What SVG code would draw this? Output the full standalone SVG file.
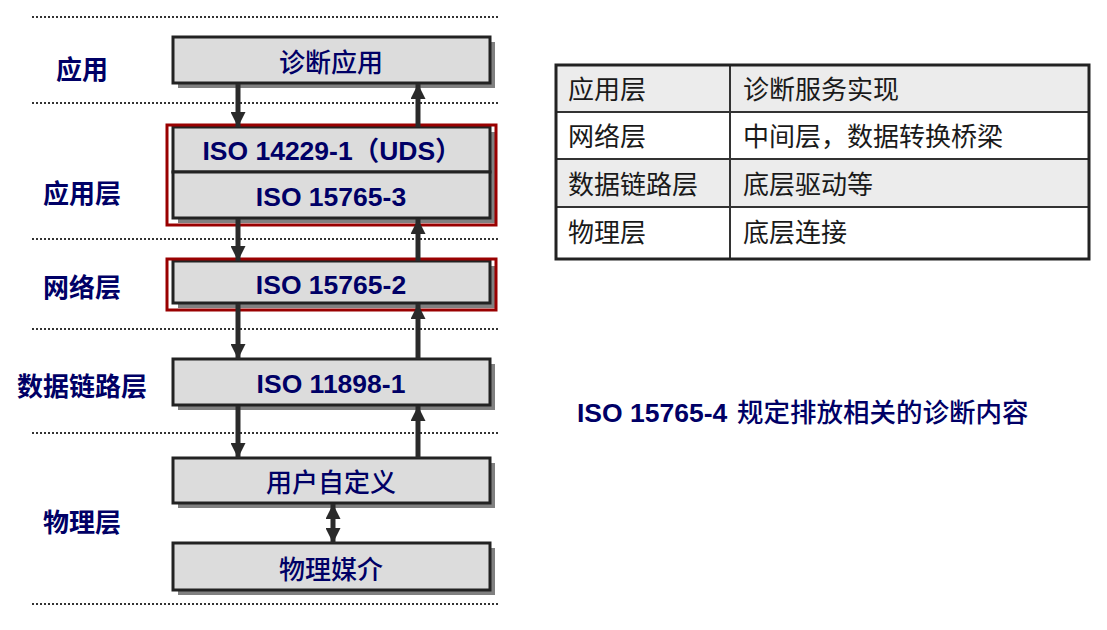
<svg xmlns="http://www.w3.org/2000/svg" width="1107" height="630" viewBox="0 0 1107 630">
<defs>
<style>
.dot{stroke:#333;stroke-width:2;stroke-dasharray:2 2;fill:none}
.shadow{fill:#808080}
.box{fill:#dcdcdc;stroke:#222;stroke-width:3}
.red{fill:none;stroke:#990000;stroke-width:3}
.bt{font-family:"Liberation Sans","Noto Sans CJK SC",sans-serif;font-weight:bold;font-size:26.5px;fill:#000066;text-anchor:middle}
.bc{font-family:"Noto Sans CJK SC",sans-serif;font-weight:500;font-size:26px;fill:#000066;text-anchor:middle}
.lt{font-family:"Noto Sans CJK SC",sans-serif;font-weight:bold;font-size:26px;fill:#000066;text-anchor:middle}
.tt{font-family:"Noto Sans CJK SC",sans-serif;font-size:26px;fill:#1a1a1a}
.ln{stroke:#2a2a2a;stroke-width:5;fill:none}
.cell{stroke:#333;stroke-width:2}
</style>
<marker id="ah" viewBox="0 0 10 10" refX="10" refY="5" markerWidth="3" markerHeight="3" orient="auto" markerUnits="strokeWidth">
<path d="M0,0 L10,5 L0,10 z" fill="#2a2a2a"/>
</marker>
<marker id="ahs" viewBox="0 0 10 10" refX="0" refY="5" markerWidth="3" markerHeight="3" orient="auto" markerUnits="strokeWidth">
<path d="M10,0 L0,5 L10,10 z" fill="#2a2a2a"/>
</marker>
</defs>
<rect width="1107" height="630" fill="#fff"/>
<g id="separators">
<line class="dot" x1="32" y1="17" x2="498" y2="17"/>
<line class="dot" x1="32" y1="103" x2="498" y2="103"/>
<line class="dot" x1="32" y1="239" x2="498" y2="239"/>
<line class="dot" x1="32" y1="329" x2="498" y2="329"/>
<line class="dot" x1="32" y1="433" x2="498" y2="433"/>
<line class="dot" x1="32" y1="604" x2="498" y2="604"/>
</g>
<g id="layer-labels">
<text class="lt" x="82" y="79">应用</text>
<text class="lt" x="82" y="203">应用层</text>
<text class="lt" x="82" y="297">网络层</text>
<text class="lt" x="82" y="396">数据链路层</text>
<text class="lt" x="82" y="532">物理层</text>
</g>
<g id="node-diag-app">
<rect class="shadow" x="178" y="42" width="317" height="46"/>
<rect class="box" x="173" y="37" width="317" height="46"/>
<text class="bc" x="331" y="72">诊断应用</text>
</g>
<g id="node-iso14229">
<rect class="shadow" x="178" y="132" width="317" height="91"/>
<rect class="box" x="173" y="127" width="317" height="45"/>
<text class="bt" x="332" y="160">ISO 14229-1（UDS）</text>
</g>
<g id="node-iso15765-3">
<rect class="box" x="173" y="172" width="317" height="46"/>
<text class="bt" x="331" y="206">ISO 15765-3</text>
</g>
<rect id="frame-app-layer" class="red" x="167" y="125" width="329" height="100"/>
<g id="node-iso15765-2">
<rect class="shadow" x="178" y="266" width="317" height="42"/>
<rect class="box" x="173" y="261" width="317" height="42"/>
<text class="bt" x="331" y="294">ISO 15765-2</text>
<rect class="red" x="167" y="259" width="329" height="51"/>
</g>
<g id="node-iso11898">
<rect class="shadow" x="178" y="364" width="317" height="46"/>
<rect class="box" x="173" y="359" width="317" height="46"/>
<text class="bt" x="331" y="393">ISO 11898-1</text>
</g>
<g id="node-user">
<rect class="shadow" x="178" y="463" width="317" height="45"/>
<rect class="box" x="173" y="458" width="317" height="45"/>
<text class="bc" x="331" y="492">用户自定义</text>
</g>
<g id="node-phys">
<rect class="shadow" x="178" y="548" width="317" height="47"/>
<rect class="box" x="173" y="543" width="317" height="47"/>
<text class="bc" x="331" y="579">物理媒介</text>
</g>
<g id="connectors">
<line class="ln" x1="238" y1="84" x2="238" y2="127" marker-end="url(#ah)"/>
<line class="ln" x1="418" y1="127" x2="418" y2="84" marker-end="url(#ah)"/>
<line class="ln" x1="238" y1="219" x2="238" y2="261" marker-end="url(#ah)"/>
<line class="ln" x1="418" y1="261" x2="418" y2="219" marker-end="url(#ah)"/>
<line class="ln" x1="238" y1="304" x2="238" y2="359" marker-end="url(#ah)"/>
<line class="ln" x1="418" y1="359" x2="418" y2="304" marker-end="url(#ah)"/>
<line class="ln" x1="238" y1="406" x2="238" y2="458" marker-end="url(#ah)"/>
<line class="ln" x1="418" y1="458" x2="418" y2="406" marker-end="url(#ah)"/>
<line class="ln" x1="333" y1="504" x2="333" y2="543" marker-start="url(#ahs)" marker-end="url(#ah)"/>
</g>
<g id="table">
<rect x="556" y="65" width="533" height="47" fill="#ececec"/>
<rect x="556" y="159" width="533" height="48" fill="#ececec"/>
<line class="cell" x1="556" y1="112" x2="1089" y2="112"/>
<line class="cell" x1="556" y1="159" x2="1089" y2="159"/>
<line class="cell" x1="556" y1="207" x2="1089" y2="207"/>
<line class="cell" x1="730" y1="65" x2="730" y2="259"/>
<rect x="556" y="65" width="533" height="194" fill="none" stroke="#222" stroke-width="3"/>
<text class="tt" x="568" y="99">应用层</text>
<text class="tt" x="743" y="99">诊断服务实现</text>
<text class="tt" x="568" y="146">网络层</text>
<text class="tt" x="743" y="146">中间层，数据转换桥梁</text>
<text class="tt" x="568" y="194">数据链路层</text>
<text class="tt" x="743" y="194">底层驱动等</text>
<text class="tt" x="568" y="242">物理层</text>
<text class="tt" x="743" y="242">底层连接</text>
</g>
<g id="note">
<text class="bt" x="577" y="422" style="text-anchor:start">ISO 15765-4 <tspan x="737" style="font-family:'Noto Sans CJK SC',sans-serif;font-size:26.5px;font-weight:500">规定排放相关的诊断内容</tspan></text>
</g>
</svg>
